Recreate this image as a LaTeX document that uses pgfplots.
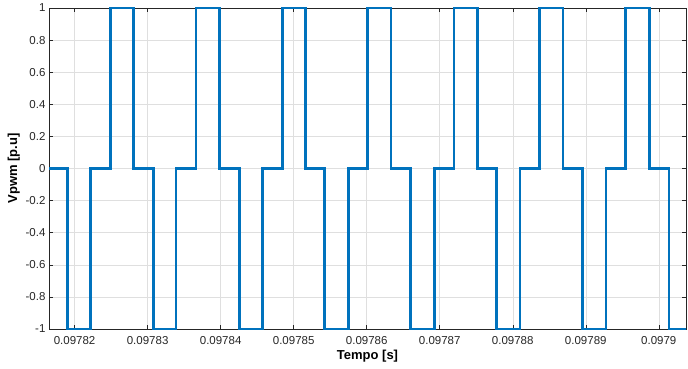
\documentclass[border=0pt]{standalone}
\usepackage{pgfplots}
\pgfplotsset{compat=1.18}
\usepackage{fontspec}
\setmainfont{Liberation Sans}
\definecolor{mblue}{RGB}{0,114,189}
\definecolor{axgray}{RGB}{38,38,38}
\definecolor{gridgray}{RGB}{223,223,223}
\begin{document}
\begin{tikzpicture}
\path[use as bounding box] (-49pt,-39pt) rectangle (639pt,329pt);
\begin{axis}[
  scale only axis,
  width=637pt, height=321pt,
  at={(0,0)}, anchor=south west,
  xmin=-0.3506, xmax=8.3725,
  ymin=-1, ymax=1,
  xtick={0,1,2,3,4,5,6,7,8},
  xticklabels={0.09782,0.09783,0.09784,0.09785,0.09786,0.09787,0.09788,0.09789,0.0979},
  ytick={-1,-0.8,-0.6,-0.4,-0.2,0,0.2,0.4,0.6,0.8,1},
  yticklabels={-1,-0.8,-0.6,-0.4,-0.2,0,0.2,0.4,0.6,0.8,1},
  tick align=inside,
  major tick length=4pt,
  tick style={axgray, line width=0.5pt},
  axis line style={axgray, line width=0.6pt},
  grid=major,
  major grid style={gridgray, line width=0.5pt},
  ticklabel style={font=\fontsize{11.5}{13}\selectfont, text=axgray},
  label style={font=\bfseries\fontsize{13}{15}\selectfont, text=black},
  xlabel={Tempo [s]},
  ylabel={Vpwm [p.u]},
  xlabel style={yshift=1pt},
  ylabel style={yshift=-1pt},
  xticklabel style={yshift=-4pt},
  clip=false,
]
\addplot[mblue, line width=2.6pt, line join=miter] coordinates {
(-0.3506,0) (-0.1000,0) (-0.1000,-1) (0.2150,-1) (0.2150,0) (0.4889,0) (0.4889,1) (0.8038,1) (0.8038,0)
(1.0777,0) (1.0777,-1) (1.3886,-1) (1.3886,0) (1.6624,0) (1.6624,1) (1.9815,1) (1.9815,0)
(2.2554,0) (2.2554,-1) (2.5704,-1) (2.5704,0) (2.8443,0) (2.8443,1) (3.1592,1) (3.1592,0)
(3.4249,0) (3.4249,-1) (3.7481,-1) (3.7481,0) (4.0137,0) (4.0137,1) (4.3328,1) (4.3328,0)
(4.6026,0) (4.6026,-1) (4.9257,-1) (4.9257,0) (5.1955,0) (5.1955,1) (5.5173,1) (5.5173,0)
(5.7802,0) (5.7802,-1) (6.0993,-1) (6.0993,0) (6.3691,0) (6.3691,1) (6.6881,1) (6.6881,0)
(6.9579,0) (6.9579,-1) (7.2770,-1) (7.2770,0) (7.5467,0) (7.5467,1) (7.8699,1) (7.8699,0)
(8.1397,0) (8.1397,-1) (8.3725,-1)
};
\end{axis}
\end{tikzpicture}
\end{document}
